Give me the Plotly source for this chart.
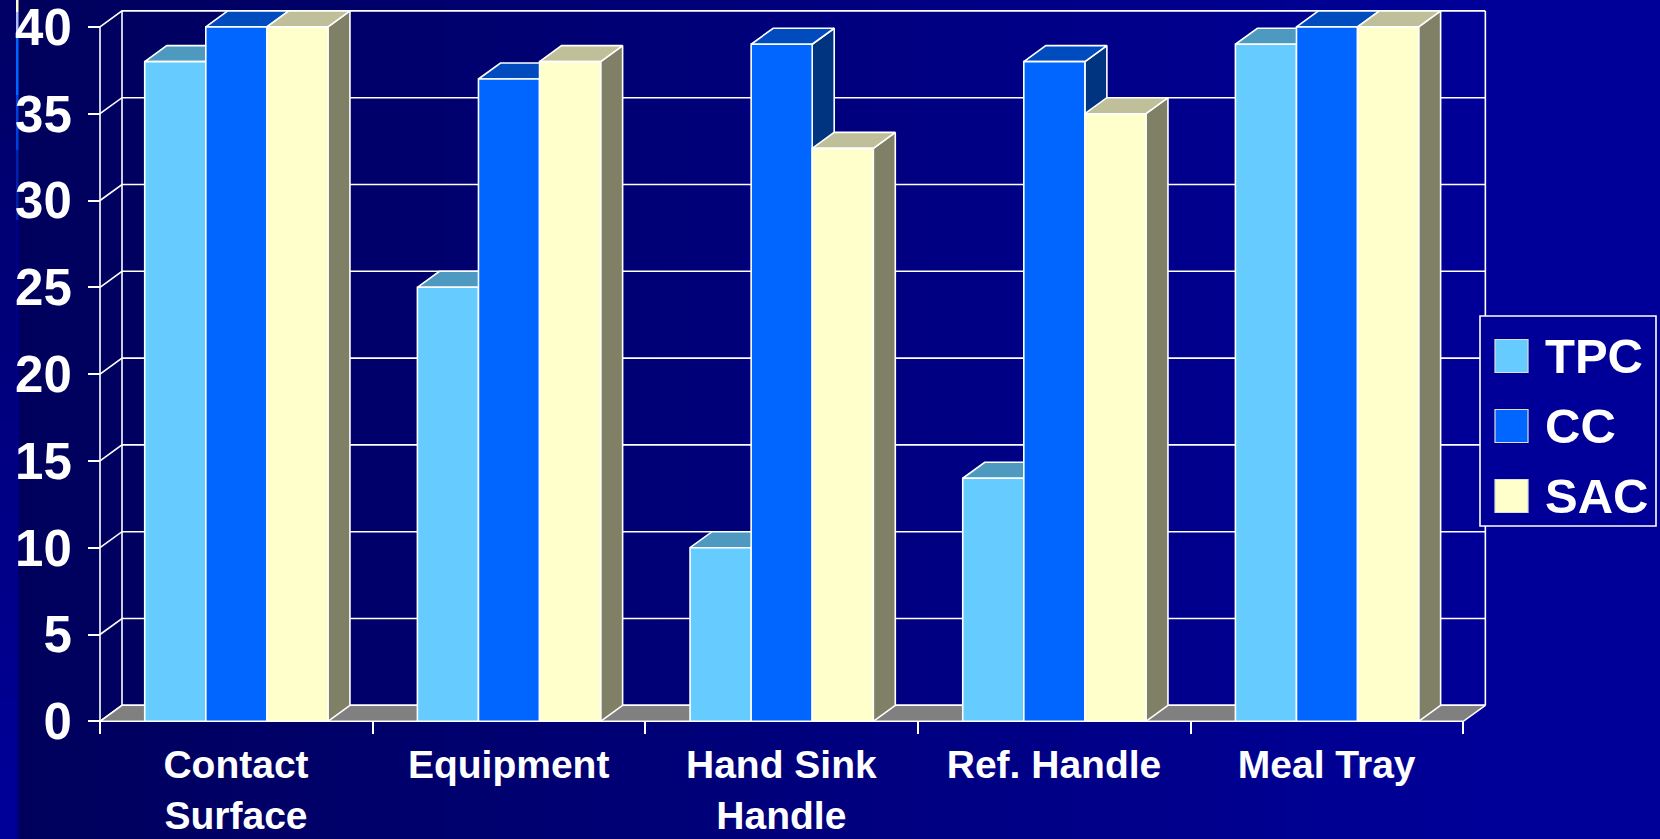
import plotly.graph_objects as go

# ---------------- data ----------------
categories = ["Contact<br>Surface", "Equipment", "Hand Sink<br>Handle", "Ref. Handle", "Meal Tray"]
series_names = ["TPC", "CC", "SAC"]
tpc = [38, 25, 10, 14, 39]
cc = [40, 37, 39, 38, 40]
sac = [40, 38, 33, 35, 40]
y_ticks = [0, 5, 10, 15, 20, 25, 30, 35, 40]

# ---------------- styles ----------------
front_colors = ["#66CCFF", "#0066FF", "#FFFFCC"]
top_colors = ["#4D99BF", "#004CBF", "#BFBF99"]
side_colors = ["#336680", "#003380", "#808066"]
FLOOR_COLOR = "#808080"
FONT = "Liberation Sans, Arial, Helvetica, sans-serif"

W, H = 1660, 839
X0_PX, Y0_PX = 100.0, 721.3          # pixel position of data (0, 0)
PX_PER_CAT = 272.67                   # pixels per category slot
PX_PER_UNIT = 17.36                   # pixels per value unit
DEPTH_X_PX, DEPTH_Y_PX = 22.0, 16.0   # 3-D depth offset in pixels
DX = DEPTH_X_PX / PX_PER_CAT
DY = DEPTH_Y_PX / PX_PER_UNIT
BW = 0.224                            # bar width in category units
G0 = (1 - 3 * BW) / 2                 # group start inside category slot
YMAX = y_ticks[-1]
NCAT = len(categories)
LW = 1.6

series_values = [tpc, cc, sac]

fig = go.Figure()

# ---------- back wall, side wall gridlines ----------
gx, gy = [], []
for t in y_ticks:
    gx += [0, DX, NCAT + DX, None]
    gy += [t, t + DY, t + DY, None]
gx += [DX, DX, None, NCAT + DX, NCAT + DX, None, 0, 0, None]
gy += [DY, YMAX + DY, None, DY, YMAX + DY, None, 0, YMAX, None]
fig.add_trace(go.Scatter(x=gx, y=gy, mode="lines", line=dict(color="white", width=LW),
                         hoverinfo="skip", showlegend=False, zorder=0))

# ---------- floor ----------
fig.add_trace(go.Scatter(x=[0, NCAT, NCAT + DX, DX, 0], y=[0, 0, DY, DY, 0],
                         mode="lines", fill="toself", fillcolor=FLOOR_COLOR,
                         line=dict(color="white", width=LW), hoverinfo="skip",
                         showlegend=False, zorder=0))

# ---------- side faces ----------
for k, vals in enumerate(series_values):
    sx, sy = [], []
    for i, h in enumerate(vals):
        r = i + G0 + (k + 1) * BW
        sx += [r, r, r + DX, r + DX, r, None]
        sy += [0, h, h + DY, DY, 0, None]
    fig.add_trace(go.Scatter(x=sx, y=sy, mode="lines", fill="toself",
                             fillcolor=side_colors[k], line=dict(color="white", width=LW),
                             hoverinfo="skip", showlegend=False, zorder=1))

# ---------- top faces ----------
for k, vals in enumerate(series_values):
    tx, ty = [], []
    for i, h in enumerate(vals):
        l = i + G0 + k * BW
        r = l + BW
        tx += [l, r, r + DX, l + DX, l, None]
        ty += [h, h, h + DY, h + DY, h, None]
    fig.add_trace(go.Scatter(x=tx, y=ty, mode="lines", fill="toself",
                             fillcolor=top_colors[k], line=dict(color="white", width=LW),
                             hoverinfo="skip", showlegend=False, zorder=2))

# ---------- front faces (bars) ----------
for k, vals in enumerate(series_values):
    xs = [i + G0 + (k + 0.5) * BW for i in range(NCAT)]
    fig.add_trace(go.Bar(x=xs, y=vals, width=BW, name=series_names[k],
                         marker=dict(color=front_colors[k], line=dict(color="white", width=LW)),
                         showlegend=False, zorder=3))

# ---------- background gradient ----------
shapes = []
shapes.append(dict(type="rect", xref="paper", yref="paper", x0=0, x1=1, y0=0, y1=1,
                   fillcolor="#000099", line=dict(width=0), layer="below"))
GRAD_START, GRAD_END = 16, 1500
NSTRIP = 90
for s in range(NSTRIP):
    xa = GRAD_START + (GRAD_END - GRAD_START) * s / NSTRIP
    xb = GRAD_START + (GRAD_END - GRAD_START) * (s + 1) / NSTRIP + 0.8
    b = int(round(0x5C + (0x99 - 0x5C) * (s + 0.5) / NSTRIP))
    shapes.append(dict(type="rect", xref="paper", yref="paper", x0=xa / W, x1=xb / W,
                       y0=0, y1=1, fillcolor="rgb(0,0,%d)" % b, line=dict(width=0), layer="below"))
# left edge strip (vertical gradient)
NV = 24
for s in range(NV):
    ya = H * s / NV
    yb = H * (s + 1) / NV + 0.8
    b = int(round(0x66 + (0x99 - 0x66) * (s + 0.5) / NV))
    shapes.append(dict(type="rect", xref="paper", yref="paper", x0=0, x1=16 / W,
                       y0=1 - yb / H, y1=1 - ya / H, fillcolor="rgb(0,0,%d)" % b,
                       line=dict(width=0), layer="below"))
# accent line
accent = [(0, 12, "#FFFFCC"), (12, 38, "#AABBFF"), (38, 95, "#0066FF"),
          (95, 150, "#0040DD"), (150, 220, "#0022AA"), (220, 839, "#00008C")]
for ya, yb, c in accent:
    shapes.append(dict(type="rect", xref="paper", yref="paper", x0=16 / W, x1=18.5 / W,
                       y0=1 - yb / H, y1=1 - ya / H, fillcolor=c, line=dict(width=0), layer="below"))

# ---------- custom legend ----------
LEG_X0, LEG_X1, LEG_Y0, LEG_Y1 = 1480, 1656, 316, 526
shapes.append(dict(type="rect", xref="paper", yref="paper", x0=LEG_X0 / W, x1=LEG_X1 / W,
                   y0=1 - LEG_Y1 / H, y1=1 - LEG_Y0 / H, fillcolor="#000099",
                   line=dict(color="white", width=1.6), layer="above"))
annotations = []
SW = 33
for k, name in enumerate(series_names):
    yc = 356 + 70 * k
    shapes.append(dict(type="rect", xref="paper", yref="paper", x0=1495 / W, x1=(1495 + SW) / W,
                       y0=1 - (yc + SW / 2) / H, y1=1 - (yc - SW / 2) / H,
                       fillcolor=front_colors[k], line=dict(color="#DDDDDD", width=1.2),
                       layer="above"))
    annotations.append(dict(xref="paper", yref="paper", x=1543 / W, y=1 - yc / H,
                            xanchor="left", yanchor="middle", text=name, showarrow=False,
                            font=dict(family=FONT, size=49, color="white", weight="bold")))

fig.update_layout(
    width=W, height=H,
    margin=dict(l=0, r=0, t=0, b=0, pad=0, autoexpand=False),
    paper_bgcolor="#000099", plot_bgcolor="rgba(0,0,0,0)",
    barmode="overlay",
    shapes=shapes, annotations=annotations,
    showlegend=False,
    xaxis=dict(range=[-X0_PX / PX_PER_CAT, (W - X0_PX) / PX_PER_CAT],
               anchor="free", position=(H - Y0_PX) / H, domain=[0, 1],
               tickmode="array", tickvals=list(range(NCAT + 1)),
               ticktext=categories + [""], ticklabelshift=int(round(PX_PER_CAT / 2)),
               ticks="outside", ticklen=12, tickwidth=2, tickcolor="white",
               showgrid=False, zeroline=False, showline=False, automargin=False,
               ticklabeloverflow="allow", ticklabelstandoff=-3,
               tickfont=dict(family=FONT, size=39, color="white", weight="bold"),
               fixedrange=True),
    yaxis=dict(range=[-(H - Y0_PX) / PX_PER_UNIT, Y0_PX / PX_PER_UNIT],
               anchor="free", position=X0_PX / W, domain=[0, 1],
               tickmode="array", tickvals=y_ticks, ticktext=[str(t) for t in y_ticks],
               ticks="outside", ticklen=12, tickwidth=2, tickcolor="white",
               showgrid=False, zeroline=False, showline=False, automargin=False,
               ticklabelstandoff=6, ticklabeloverflow="allow",
               tickfont=dict(family=FONT, size=51, color="white", weight="bold"),
               fixedrange=True),
)

fig.write_html("out.html")
